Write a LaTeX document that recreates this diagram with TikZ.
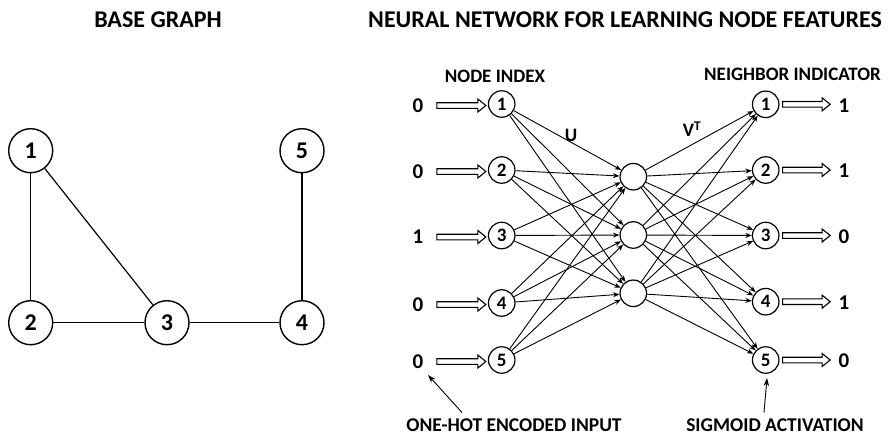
\documentclass[tikz,border=0pt]{standalone}
\usepackage{fontspec}
\setmainfont{Carlito}
\usetikzlibrary{arrows.meta,calc}
\begin{document}
\begin{tikzpicture}[x=1pt,y=-1pt,
  bnode/.style={circle,draw,line width=1.4pt,minimum size=44pt,inner sep=0pt,font=\fontsize{24}{24}\selectfont\bfseries},
  snode/.style={circle,draw,line width=1.2pt,minimum size=26.5pt,inner sep=0pt,font=\fontsize{19}{19}\selectfont\bfseries},
  hnode/.style={circle,draw,line width=1.2pt,minimum size=26.5pt,inner sep=0pt},
  gedge/.style={line width=1.2pt},
  conn/.style={line width=0.9pt,-{Stealth[length=6.5pt,width=5pt]}},
  val/.style={font=\fontsize{21}{21}\selectfont\bfseries},
  lbl/.style={font=\fontsize{19}{19}\selectfont\bfseries},
  blbl/.style={font=\fontsize{19.5}{19.5}\selectfont\bfseries,inner sep=0pt,anchor=base},
  ttl/.style={font=\fontsize{24}{24}\selectfont\bfseries},
  pointer/.style={line width=0.9pt,-{Stealth[length=8pt,width=5.5pt]}},
  hollow/.style={line width=1.1pt, to path={let \p1=(\tikztostart), \p2=(\tikztotarget) in
     (\x1,\y1+2.8pt) -- (\x2-8pt,\y1+2.8pt) -- (\x2-8pt,\y1+6.5pt) -- (\x2,\y1) -- (\x2-8pt,\y1-6.5pt) -- (\x2-8pt,\y1-2.8pt) -- (\x1,\y1-2.8pt) -- cycle}},
]
\useasboundingbox (0,0) rectangle (888,436);

% titles
\node[ttl] (t1) at (158,20) {BASE GRAPH};
\node[ttl] (t2) at (625,20) {NEURAL NETWORK FOR LEARNING NODE FEATURES};

% base graph
\node[bnode] (g1) at (30.7,150.7) {1};
\node[bnode] (g2) at (30.7,322.7) {2};
\node[bnode] (g3) at (167,322.7) {3};
\node[bnode] (g4) at (302,322.7) {4};
\node[bnode] (g5) at (302,150.7) {5};
\draw[gedge] (g1) -- (g2);
\draw[gedge] (g1) -- (g3);
\draw[gedge] (g2) -- (g3);
\draw[gedge] (g3) -- (g4);
\draw[gedge] (g4) -- (g5);

% input layer
\foreach \i/\y/\v in {1/104/0,2/170/0,3/235.5/1,4/303/0,5/360/0}{
  \node[snode] (n\i) at (501.7,\y) {\i};
  \node[val] (v\i) at (418,\y+1.5) {\v};
  \draw[hollow] ([xshift=10pt]v\i.east) to ([xshift=-2pt]n\i.west);
}
% hidden layer
\node[hnode] (h1) at (633.3,176.7) {};
\node[hnode] (h2) at (633.3,235) {};
\node[hnode] (h3) at (633.3,293.3) {};
% output layer
\foreach \i/\y/\v in {1/104.3/1,2/170/1,3/235.5/0,4/301.7/1,5/360/0}{
  \node[snode] (o\i) at (765.7,\y) {\i};
  \node[val] (w\i) at (844,\y+1) {\v};
  \draw[hollow] ([xshift=3pt]o\i.east) to ([xshift=-5pt]w\i.west);
}
% connections
\foreach \i in {1,...,5}{
  \foreach \j in {1,2,3}{
    \draw[conn] (n\i) -- (h\j);
    \draw[conn] (h\j) -- (o\i);
  }
}

% labels
\node[lbl] (ni) at (495,76) {NODE INDEX};
\node[lbl] (nb) at (792.5,74) {NEIGHBOR INDICATOR};
\node[lbl] (u) at (571,135) {U};
\node[lbl] (vt) at (692,129) {V\textsuperscript{T}};
\node[blbl] (oh) at (514,431.5) {ONE-HOT ENCODED INPUT};
\node[blbl] (sg) at (775,431.5) {SIGMOID ACTIVATION};
\coordinate (ohtip) at (428,375);
\coordinate (sgtip) at (767,378);
\draw[pointer] (oh.north -| 462,0) ++(0,-6) -- (ohtip);
\draw[pointer] (sg.north -| 764,0) ++(0,-6) -- (sgtip);
\end{tikzpicture}
\end{document}
